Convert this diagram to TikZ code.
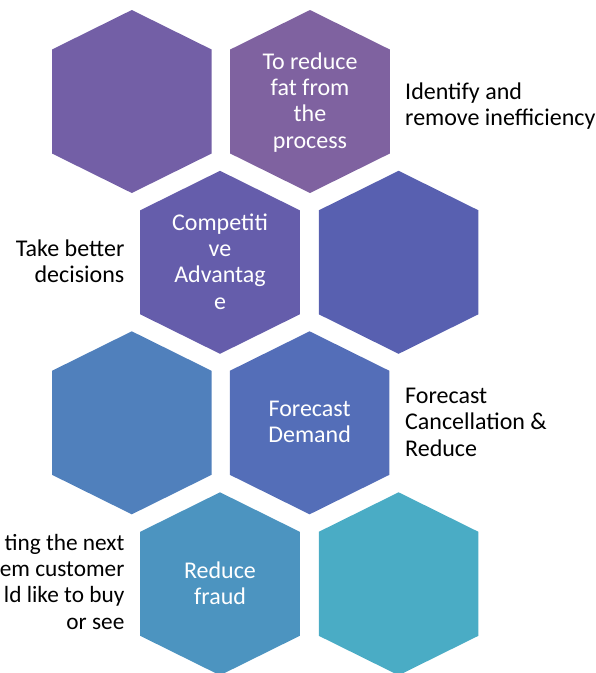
\documentclass[tikz,border=0pt]{standalone}
\usepackage{fontspec}
\setmainfont{Carlito}
\definecolor{hexA}{HTML}{735FA6}
\definecolor{hexB}{HTML}{7F62A0}
\definecolor{hexC}{HTML}{655DAB}
\definecolor{hexD}{HTML}{5860B0}
\definecolor{hexE}{HTML}{5080BC}
\definecolor{hexF}{HTML}{546EB8}
\definecolor{hexG}{HTML}{4C94C0}
\definecolor{hexH}{HTML}{4AACC5}
\begin{document}
\begin{tikzpicture}[x=1pt,y=-1pt,
  hexcell/.pic={\fill[#1] (-79.8,-52) -- (0,-91.5) -- (79.8,-52) -- (79.8,52)
                 -- (0,91.5) -- (-79.8,52) -- cycle;},
  intext/.style={text=white, align=center, inner sep=0pt,
                 font=\fontsize{24}{26.3}\selectfont},
  sidetext/.style={text=black, inner sep=0pt,
                 font=\fontsize{24}{26.3}\selectfont}]
\useasboundingbox (0,0) rectangle (596,673);

% hexagon centres, two columns shifted on alternate rows
\coordinate (c1) at (131.8,101.5);
\coordinate (c2) at (310.0,101.5);
\coordinate (c3) at (220.0,262.3);
\coordinate (c4) at (398.6,262.3);
\coordinate (c5) at (131.8,422.8);
\coordinate (c6) at (309.6,422.8);
\coordinate (c7) at (220.0,583.8);
\coordinate (c8) at (398.6,583.8);

\pic at (c1) {hexcell=hexA};
\pic at (c2) {hexcell=hexB};
\pic at (c3) {hexcell=hexC};
\pic at (c4) {hexcell=hexD};
\pic at (c5) {hexcell=hexE};
\pic at (c6) {hexcell=hexF};
\pic at (c7) {hexcell=hexG};
\pic at (c8) {hexcell=hexH};

% labels inside the cells
\node[intext] (t2) at (310,102.3) {To reduce\\fat from\\the\\process};
\node[intext] (t3) at (220,261.5) {Competiti\\ve\\Advantag\\e};
\node[intext] (t6) at (309.6,422) {Forecast\\Demand};
\node[intext] (t7) at (220,582.9) {Reduce\\fraud};

% notes beside the cells
\node[sidetext, anchor=west, align=left] (s2) at (405,106.3)
  {Identify and\\remove inefficiency};
\node[sidetext, anchor=east, align=right] (s3) at (124.6,261.5)
  {Take better\\decisions};
\node[sidetext, anchor=east, align=right,
      font=\fontsize{23.3}{26.3}\selectfont] (s7) at (124.6,581.7)
  {ting the next\\em customer\\ld like to buy\\or see};
\node[sidetext, anchor=west, align=left] (s6) at (405,422.2)
  {Forecast\\Cancellation \&\\Reduce};
\end{tikzpicture}
\end{document}
